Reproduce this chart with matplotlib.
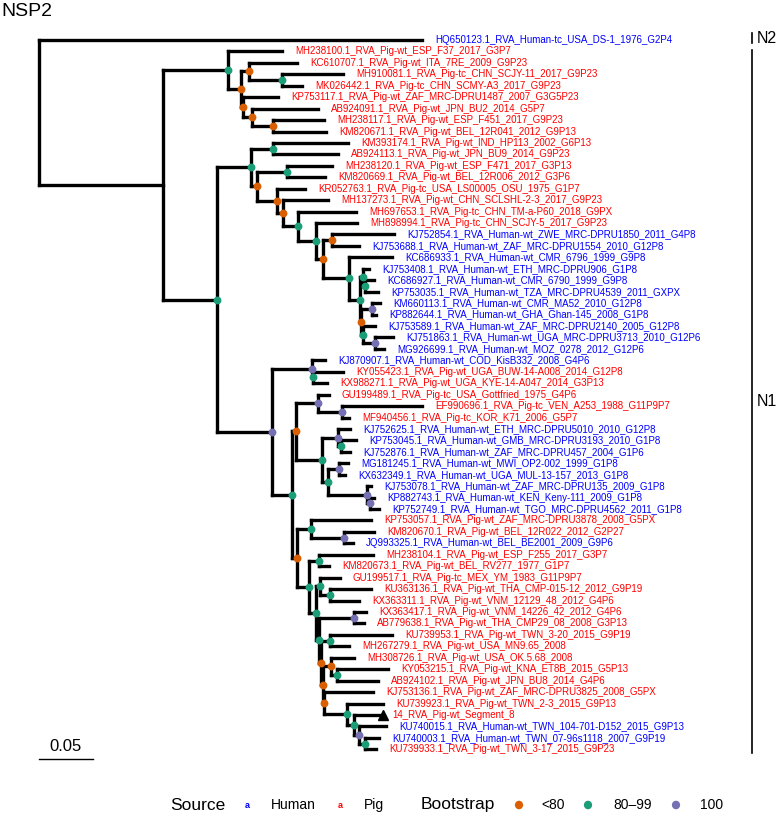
import numpy as np
import matplotlib
matplotlib.use("Agg")
import matplotlib.pyplot as plt
from matplotlib.collections import LineCollection

plt.rcParams['font.family'] = ['Liberation Sans', 'DejaVu Sans']

# tips, top to bottom
tip_labels = [
    'HQ650123.1_RVA_Human-tc_USA_DS-1_1976_G2P4',
    'MH238100.1_RVA_Pig-wt_ESP_F37_2017_G3P7',
    'KC610707.1_RVA_Pig-wt_ITA_7RE_2009_G9P23',
    'MH910081.1_RVA_Pig-tc_CHN_SCJY-11_2017_G9P23',
    'MK026442.1_RVA_Pig-tc_CHN_SCMY-A3_2017_G9P23',
    'KP753117.1_RVA_Pig-wt_ZAF_MRC-DPRU1487_2007_G3G5P23',
    'AB924091.1_RVA_Pig-wt_JPN_BU2_2014_G5P7',
    'MH238117.1_RVA_Pig-wt_ESP_F451_2017_G9P23',
    'KM820671.1_RVA_Pig-wt_BEL_12R041_2012_G9P13',
    'KM393174.1_RVA_Pig-wt_IND_HP113_2002_G6P13',
    'AB924113.1_RVA_Pig-wt_JPN_BU9_2014_G9P23',
    'MH238120.1_RVA_Pig-wt_ESP_F471_2017_G3P13',
    'KM820669.1_RVA_Pig-wt_BEL_12R006_2012_G3P6',
    'KR052763.1_RVA_Pig-tc_USA_LS00005_OSU_1975_G1P7',
    'MH137273.1_RVA_Pig-wt_CHN_SCLSHL-2-3_2017_G9P23',
    'MH697653.1_RVA_Pig-tc_CHN_TM-a-P60_2018_G9PX',
    'MH898994.1_RVA_Pig-tc_CHN_SCJY-5_2017_G9P23',
    'KJ752854.1_RVA_Human-wt_ZWE_MRC-DPRU1850_2011_G4P8',
    'KJ753688.1_RVA_Human-wt_ZAF_MRC-DPRU1554_2010_G12P8',
    'KC686933.1_RVA_Human-wt_CMR_6796_1999_G9P8',
    'KJ753408.1_RVA_Human-wt_ETH_MRC-DPRU906_G1P8',
    'KC686927.1_RVA_Human-wt_CMR_6790_1999_G9P8',
    'KP753035.1_RVA_Human-wt_TZA_MRC-DPRU4539_2011_GXPX',
    'KM660113.1_RVA_Human-wt_CMR_MA52_2010_G12P8',
    'KP882644.1_RVA_Human-wt_GHA_Ghan-145_2008_G1P8',
    'KJ753589.1_RVA_Human-wt_ZAF_MRC-DPRU2140_2005_G12P8',
    'KJ751863.1_RVA_Human-wt_UGA_MRC-DPRU3713_2010_G12P6',
    'MG926699.1_RVA_Human-wt_MOZ_0278_2012_G12P6',
    'KJ870907.1_RVA_Human-wt_COD_KisB332_2008_G4P6',
    'KY055423.1_RVA_Pig-wt_UGA_BUW-14-A008_2014_G12P8',
    'KX988271.1_RVA_Pig-wt_UGA_KYE-14-A047_2014_G3P13',
    'GU199489.1_RVA_Pig-tc_USA_Gottfried_1975_G4P6',
    'EF990696.1_RVA_Pig-tc_VEN_A253_1988_G11P9P7',
    'MF940456.1_RVA_Pig-tc_KOR_K71_2006_G5P7',
    'KJ752625.1_RVA_Human-wt_ETH_MRC-DPRU5010_2010_G12P8',
    'KP753045.1_RVA_Human-wt_GMB_MRC-DPRU3193_2010_G1P8',
    'KJ752876.1_RVA_Human-wt_ZAF_MRC-DPRU457_2004_G1P6',
    'MG181245.1_RVA_Human-wt_MWI_OP2-002_1999_G1P8',
    'KX632349.1_RVA_Human-wt_UGA_MUL-13-157_2013_G1P8',
    'KJ753078.1_RVA_Human-wt_ZAF_MRC-DPRU135_2009_G1P8',
    'KP882743.1_RVA_Human-wt_KEN_Keny-111_2009_G1P8',
    'KP752749.1_RVA_Human-wt_TGO_MRC-DPRU4562_2011_G1P8',
    'KP753057.1_RVA_Pig-wt_ZAF_MRC-DPRU3878_2008_G5PX',
    'KM820670.1_RVA_Pig-wt_BEL_12R022_2012_G2P27',
    'JQ993325.1_RVA_Human-wt_BEL_BE2001_2009_G9P6',
    'MH238104.1_RVA_Pig-wt_ESP_F255_2017_G3P7',
    'KM820673.1_RVA_Pig-wt_BEL_RV277_1977_G1P7',
    'GU199517.1_RVA_Pig-tc_MEX_YM_1983_G11P9P7',
    'KU363136.1_RVA_Pig-wt_THA_CMP-015-12_2012_G9P19',
    'KX363311.1_RVA_Pig-wt_VNM_12129_48_2012_G4P6',
    'KX363417.1_RVA_Pig-wt_VNM_14226_42_2012_G4P6',
    'AB779638.1_RVA_Pig-wt_THA_CMP29_08_2008_G3P13',
    'KU739953.1_RVA_Pig-wt_TWN_3-20_2015_G9P19',
    'MH267279.1_RVA_Pig-wt_USA_MN9.65_2008',
    'MH308726.1_RVA_Pig-wt_USA_OK.5.68_2008',
    'KY053215.1_RVA_Pig-wt_KNA_ET8B_2015_G5P13',
    'AB924102.1_RVA_Pig-wt_JPN_BU8_2014_G4P6',
    'KJ753136.1_RVA_Pig-wt_ZAF_MRC-DPRU3825_2008_G5PX',
    'KU739923.1_RVA_Pig-wt_TWN_2-3_2015_G9P13',
    '14_RVA_Pig-wt_Segment_8',
    'KU740015.1_RVA_Human-wt_TWN_104-701-D152_2015_G9P13',
    'KU740003.1_RVA_Human-wt_TWN_07-96s1118_2007_G9P19',
    'KU739933.1_RVA_Pig-wt_TWN_3-17_2015_G9P23',
]
tip_parent = ['root', 'A', 'C', 'D', 'D', 'E', 'F', 'G', 'G', 'H', 'H', 'J', 'J',
              'N', 'O', 'P', 'Q', 'S', 'S', 'T', 'V', 'W', 'W', 'Y', 'Y', 'Z',
              'AA', 'AA', 'AB', 'AD', 'AD', 'AG', 'AH', 'AH', 'AJ', 'AM', 'AM',
              'AN', 'AN', 'AO', 'AP', 'AP', 'AQ', 'AS', 'AS', 'AT', 'AT', 'AV',
              'AV2', 'AV2', 'P1', 'P1', 'P2', 'P2', 'P3', 'P4', 'P4', 'NC', 'ND',
              'NE', 'NF', 'NG', 'NG']
tip_length = [0.3546, 0.0500, 0.0444, 0.0565, 0.0185, 0.0324, 0.0611, 0.0472,
              0.0491, 0.0694, 0.0602, 0.0417, 0.0352, 0.0259, 0.0417, 0.0537,
              0.0380, 0.0574, 0.0250, 0.0398, 0.0056, 0.0088, 0.0125, 0.0074,
              0.0037, 0.0116, 0.0167, 0.0083, 0.0120, 0.0278, 0.0130, 0.0102,
              0.0741, 0.0065, 0.0111, 0.0139, 0.0083, 0.0083, 0.0056, 0.0037,
              0.0037, 0.0083, 0.0556, 0.0278, 0.0083, 0.0500, 0.0093, 0.0185,
              0.0380, 0.0269, 0.0111, 0.0093, 0.0574, 0.0176, 0.0213, 0.0472,
              0.0380, 0.0454, 0.0333, 0.0231, 0.0250, 0.0130, 0.0102]
highlight_tip = '14_RVA_Pig-wt_Segment_8'

# internal nodes
node_names = ['root', 'BC', 'A', 'B', 'C', 'D', 'E', 'F', 'G', 'K', 'I', 'H', 'M',
              'J', 'N', 'O', 'P', 'Q', 'R', 'S', 'T', 'U', 'V', 'W', 'X', 'Y', 'Z',
              'AA', 'L', 'AB', 'AD', 'AC', 'AE', 'AG', 'AH', 'AI', 'AJ', 'AM', 'AK',
              'AN', 'AO', 'AP', 'AF', 'AQ', 'AS', 'AR', 'AT', 'AU', 'AV', 'AV2',
              'AW', 'P1', 'NA', 'P2', 'NB', 'P3', 'P4', 'NC', 'ND', 'NE', 'NF', 'NG']
node_parent = [None, 'root', 'BC', 'A', 'B', 'C', 'B', 'E', 'F', 'BC', 'K', 'I', 'I',
               'M', 'M', 'N', 'O', 'P', 'Q', 'R', 'R', 'T', 'U', 'V', 'U', 'X', 'X',
               'Z', 'K', 'L', 'AB', 'L', 'AC', 'AE', 'AG', 'AE', 'AI', 'AJ', 'AI',
               'AK', 'AK', 'AO', 'AC', 'AF', 'AQ', 'AF', 'AR', 'AR', 'AU', 'AV',
               'AU', 'AW', 'AW', 'NA', 'NA', 'NB', 'P3', 'NB', 'NC', 'ND', 'NE', 'NF']
node_length = [0.0, 0.1148, 0.0602, 0.0120, 0.0074, 0.0306, 0.0019, 0.0083, 0.0194,
               0.0500, 0.0315, 0.0204, 0.0056, 0.0278, 0.0185, 0.0056, 0.0139,
               0.0167, 0.0065, 0.0083, 0.0241, 0.0102, 0.0028, 0.0014, 0.0009,
               0.0102, 0.0014, 0.0116, 0.0509, 0.0370, 0.0009, 0.0185, 0.0037,
               0.0204, 0.0222, 0.0241, 0.0148, 0.0028, 0.0056, 0.0102, 0.0361,
               0.0028, 0.0046, 0.0130, 0.0306, 0.0111, 0.0093, 0.0065, 0.0037,
               0.0093, 0.0028, 0.0324, 0.0019, 0.0083, 0.0019, 0.0074, 0.0056,
               0.0009, 0.0213, 0.0065, 0.0046, 0.0056]
node_support = [None, None, '80-99', '<80', '<80', '80-99', '<80', '<80', '<80',
                '80-99', '80-99', '80-99', '<80', '80-99', '<80', '<80', '80-99',
                '80-99', '<80', '<80', '80-99', '80-99', '80-99', '80-99', '<80',
                '100', '80-99', '100', '100', '100', '80-99', '80-99', '<80', '100',
                '100', '80-99', '100', '80-99', '80-99', '100', '100', '100', '<80',
                '80-99', '100', '80-99', '80-99', '80-99', '80-99', '80-99', '80-99',
                '100', '<80', '80-99', '<80', '<80', '80-99', '<80', '80-99',
                '80-99', '100', '80-99']

support_levels = ['<80', '80-99', '100']
support_colors = {'<80': '#D95F02', '80-99': '#1B9E77', '100': '#7570B3'}
source_colors = {'Human': '#0000FF', 'Pig': '#FF0000'}

clade_names = ['N2', 'N1']
clade_first = [0, 1]
clade_last = [0, 62]

# ---- layout of the tree ----
parent = {}
length = {}
for i, lab in enumerate(tip_labels):
    parent[lab] = tip_parent[i]
    length[lab] = tip_length[i]
for n, p, l in zip(node_names, node_parent, node_length):
    parent[n] = p
    length[n] = l

children = {n: [] for n in node_names}
for k, p in parent.items():
    if p is not None:
        children[p].append(k)

xpos = {}
def get_x(k):
    if k not in xpos:
        p = parent[k]
        xpos[k] = 0.0 if p is None else get_x(p) + length[k]
    return xpos[k]

ypos = {lab: float(i) for i, lab in enumerate(tip_labels)}
def get_y(k):
    if k not in ypos:
        ypos[k] = np.mean([get_y(c) for c in children[k]])
    return ypos[k]

for k in parent:
    get_x(k)
    get_y(k)

# figure: 778x818 px, axes spans everything; 1080 px per unit, 11.44 px per tip
W, H = 778, 818
x0_px, px_unit = 39, 1080
y0_px, px_tip = 40, 11.44

fig = plt.figure(figsize=(W / 100, H / 100), dpi=100)
ax = fig.add_axes([0, 0, 1, 1])
ax.set_xlim(-x0_px / px_unit, (W - x0_px) / px_unit)
ax.set_ylim((H - y0_px) / px_tip, -y0_px / px_tip)
ax.axis('off')

segs = []
for k, p in parent.items():
    if p is None:
        continue
    segs.append([(xpos[p], ypos[k]), (xpos[k], ypos[k])])
for n in node_names:
    ys = [ypos[c] for c in children[n]]
    segs.append([(xpos[n], min(ys)), (xpos[n], max(ys))])
ax.add_collection(LineCollection(segs, colors='black', linewidths=2.4,
                                 capstyle='projecting', zorder=2))

for lev in support_levels:
    pts = [n for n, s in zip(node_names, node_support) if s == lev]
    ax.scatter([xpos[n] for n in pts], [ypos[n] for n in pts], s=32,
               color=support_colors[lev], zorder=3, linewidths=0)

lab_off = 13 / px_unit
for lab in tip_labels:
    src = 'Human' if '_Human' in lab else 'Pig'
    ax.text(xpos[lab] + lab_off, ypos[lab], lab, fontsize=7, color=source_colors[src],
            ha='left', va='center')
ax.plot(xpos[highlight_tip] + 4 / px_unit, ypos[highlight_tip], marker='^',
        color='black', markersize=7, zorder=4)

# clade bars
bar_x = (752 - x0_px) / px_unit
for name, a, b in zip(clade_names, clade_first, clade_last):
    ya, yb = a - 0.6, b + 0.3
    if a != b:
        ya = a - 0.1
    ax.plot([bar_x, bar_x], [ya, yb], color='black', lw=1.2)
    ax.text(bar_x + 5 / px_unit, (ya + yb) / 2, name, fontsize=11.5, ha='left',
            va='center')

# scale bar
sb_y = (759 - y0_px) / px_tip
ax.plot([0, 0.05], [sb_y, sb_y], color='black', lw=1)
ax.text(0.025, sb_y - 0.45, '0.05', fontsize=12, ha='center', va='bottom')

fig.text(1 / W, 1 - 12 / H, 'NSP2', fontsize=14, ha='left', va='center')

# legend
ly = 1 - 805 / H
fig.text(170 / W, ly, 'Source', fontsize=12.5, ha='left', va='center')
fig.text(247 / W, ly, 'a', fontsize=6.5, ha='center', va='center',
         color=source_colors['Human'], fontweight='bold')
fig.text(271 / W, ly, 'Human', fontsize=10, ha='left', va='center')
fig.text(340 / W, ly, 'a', fontsize=6.5, ha='center', va='center',
         color=source_colors['Pig'], fontweight='bold')
fig.text(364 / W, ly, 'Pig', fontsize=10, ha='left', va='center')
fig.text(421 / W, ly, 'Bootstrap', fontsize=12.5, ha='left', va='center')
for lev, dx, tx, txt in zip(support_levels, [519, 588, 676], [541, 613, 700],
                            ['<80', '80\u201399', '100']):
    fig.patches.append(plt.Circle((dx / W, ly), 3.4 / W, transform=fig.transFigure,
                                  color=support_colors[lev]))
    fig.text(tx / W, ly, txt, fontsize=10, ha='left', va='center')

fig.savefig('out.png', dpi=100)
